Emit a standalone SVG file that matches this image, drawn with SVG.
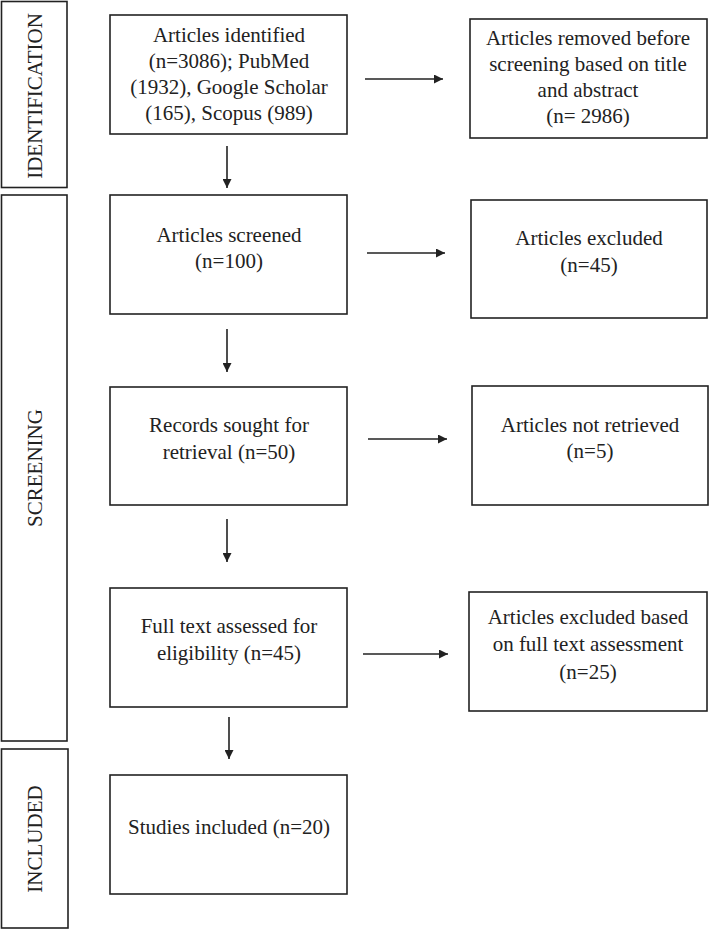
<svg xmlns="http://www.w3.org/2000/svg" width="712" height="930" viewBox="0 0 712 930">
<style>
.box{fill:#fff;stroke:#222;stroke-width:1.6}
.t{font-family:"Liberation Serif","Times New Roman",serif;font-size:21px;fill:#222;text-anchor:middle}
.c{stroke:#222;stroke-width:1.6;fill:none}
</style>
<defs>
<marker id="ah" viewBox="0 0 10 10" refX="10" refY="5" markerWidth="9" markerHeight="9" markerUnits="userSpaceOnUse" orient="auto">
<path d="M0,0 L10,5 L0,10 Z" fill="#222"/>
</marker>
</defs>
<rect width="712" height="930" fill="#fff"/>
<g id="stage-identification">
<rect class="box" x="1.5" y="1.5" width="65.5" height="186"/>
<text class="t" transform="translate(42,96) rotate(-90)">IDENTIFICATION</text>
</g>
<g id="stage-screening">
<rect class="box" x="1.5" y="195" width="65.5" height="546"/>
<text class="t" transform="translate(42,468) rotate(-90)">SCREENING</text>
</g>
<g id="stage-included">
<rect class="box" x="1.5" y="749" width="66.5" height="179"/>
<text class="t" transform="translate(42,839) rotate(-90)">INCLUDED</text>
</g>
<g id="n1">
<rect class="box" x="110" y="15" width="237" height="119"/>
<text class="t" x="229" y="42">Articles identified</text>
<text class="t" x="229" y="68">(n=3086); PubMed</text>
<text class="t" x="229" y="94">(1932), Google Scholar</text>
<text class="t" x="229" y="120">(165), Scopus (989)</text>
</g>
<g id="n2">
<rect class="box" x="110" y="195" width="237" height="119"/>
<text class="t" x="229" y="242">Articles screened</text>
<text class="t" x="229" y="268">(n=100)</text>
</g>
<g id="n3">
<rect class="box" x="110" y="387" width="237" height="118"/>
<text class="t" x="229" y="432">Records sought for</text>
<text class="t" x="229" y="459">retrieval (n=50)</text>
</g>
<g id="n4">
<rect class="box" x="110" y="588" width="237" height="119"/>
<text class="t" x="229" y="633">Full text assessed for</text>
<text class="t" x="229" y="660">eligibility (n=45)</text>
</g>
<g id="n5">
<rect class="box" x="110" y="775" width="237" height="119"/>
<text class="t" x="229" y="834">Studies included (n=20)</text>
</g>
<g id="r1">
<rect class="box" x="470" y="19" width="237" height="119"/>
<text class="t" x="588" y="45">Articles removed before</text>
<text class="t" x="588" y="71">screening based on title</text>
<text class="t" x="588" y="97">and abstract</text>
<text class="t" x="588" y="123">(n= 2986)</text>
</g>
<g id="r2">
<rect class="box" x="471" y="200" width="236" height="118"/>
<text class="t" x="589" y="245">Articles excluded</text>
<text class="t" x="589" y="272">(n=45)</text>
</g>
<g id="r3">
<rect class="box" x="472" y="386" width="236" height="119"/>
<text class="t" x="590" y="432">Articles not retrieved</text>
<text class="t" x="590" y="458">(n=5)</text>
</g>
<g id="r4">
<rect class="box" x="469" y="592" width="238" height="119"/>
<text class="t" x="588" y="624">Articles excluded based</text>
<text class="t" x="588" y="651">on full text assessment</text>
<text class="t" x="588" y="679">(n=25)</text>
</g>
<g id="connectors">
<line class="c" x1="227" y1="146" x2="227" y2="188" marker-end="url(#ah)"/>
<line class="c" x1="227" y1="329" x2="227" y2="372" marker-end="url(#ah)"/>
<line class="c" x1="227" y1="519" x2="227" y2="562" marker-end="url(#ah)"/>
<line class="c" x1="229" y1="717" x2="229" y2="759" marker-end="url(#ah)"/>
<line class="c" x1="365" y1="79" x2="443" y2="79" marker-end="url(#ah)"/>
<line class="c" x1="367" y1="253" x2="445" y2="253" marker-end="url(#ah)"/>
<line class="c" x1="368" y1="439" x2="447" y2="439" marker-end="url(#ah)"/>
<line class="c" x1="363" y1="654" x2="448" y2="654" marker-end="url(#ah)"/>
</g>
</svg>
